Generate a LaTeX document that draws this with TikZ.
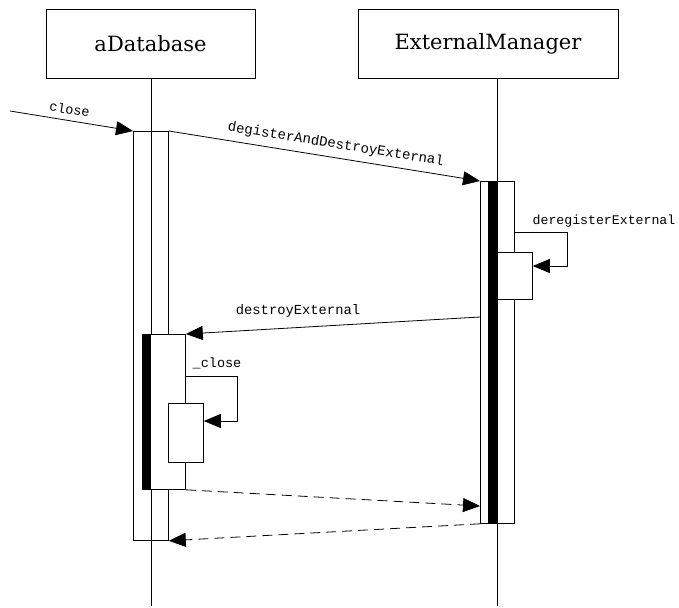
\documentclass[tikz,border=0pt]{standalone}
\usepackage{fontspec}
\newfontfamily\titlefont{DejaVu Serif}
\newfontfamily\msgfont{Liberation Mono}
\usetikzlibrary{arrows.meta}
\begin{document}
\begin{tikzpicture}[x=1pt,y=-1pt,line width=0.8pt,
  obj/.style={draw,minimum height=69pt,inner sep=0pt,font=\titlefont\fontsize{21}{24}\selectfont},
  act/.style={draw,fill=white,inner sep=0pt,anchor=north west},
  msg/.style={-{Triangle[length=17pt,width=14pt]}},
  ret/.style={msg,dash pattern=on 10pt off 6pt},
  lbl/.style={font=\msgfont\fontsize{13.5}{15}\selectfont,inner sep=0pt}]
\useasboundingbox (0,0) rectangle (679,607);
% objects
\node[obj,minimum width=209pt] (db) at (150.5,43.5) {aDatabase};
\node[obj,minimum width=260pt] (em) at (488,43.5) {ExternalManager};
% outer activations
\node[act,minimum width=35pt,minimum height=409pt] (a1) at (133,131) {};
\node[act,minimum width=34pt,minimum height=342pt] (e1) at (480,181) {};
% lifelines
\coordinate (dbend) at (151,606);
\coordinate (emend) at (497,606);
\draw (db.south -| dbend) -- (dbend);
\draw (em.south -| emend) -- (emend);
\fill (488,181) rectangle (497,523);
% inner activations
\node[act,minimum width=43pt,minimum height=155pt] (a2) at (142,334) {};
\fill (142,334) rectangle (151,489);
\node[act,minimum width=35pt,minimum height=59pt] (a3) at (168,403) {};
\node[act,minimum width=35pt,minimum height=47pt] (e2) at (497,252) {};
% messages
\coordinate (src) at (10,111);
\draw[msg] (src) -- node[lbl,sloped,above=6pt,pos=0.47]{close} (a1.north west);
\draw[msg] (a1.north east) -- node[lbl,sloped,above=6pt,pos=0.53,font=\msgfont\fontsize{14}{16}\selectfont]{degisterAndDestroyExternal} (e1.north west);
% deregisterExternal self call
\coordinate (d1) at (514,232);
\coordinate (d2) at (567,232);
\coordinate (d3) at (567,266);
\draw[msg] (d1) -- (d2) -- (d3) -- (d3 -| e2.east);
\node[lbl,font=\msgfont\fontsize{13.2}{15}\selectfont] (dlbl) at (604,221) {deregisterExternal};
% destroyExternal
\coordinate (x1) at (480,317);
\draw[msg] (x1) -- (a2.north east);
\node[lbl,font=\msgfont\fontsize{13.8}{15}\selectfont] (xlbl) at (298,311) {destroyExternal};
% _close self call
\coordinate (c1) at (185,376);
\coordinate (c2) at (237,376);
\coordinate (c3) at (237,421);
\draw[msg] (c1) -- (c2) -- (c3) -- (c3 -| a3.east);
\node[lbl] (clbl) at (217,363) {\_close};
% returns
\coordinate (r1) at (480,506);
\draw[ret] (a2.south east) -- (r1);
\draw[ret] (e1.south west) -- (a1.south east);
\end{tikzpicture}
\end{document}
